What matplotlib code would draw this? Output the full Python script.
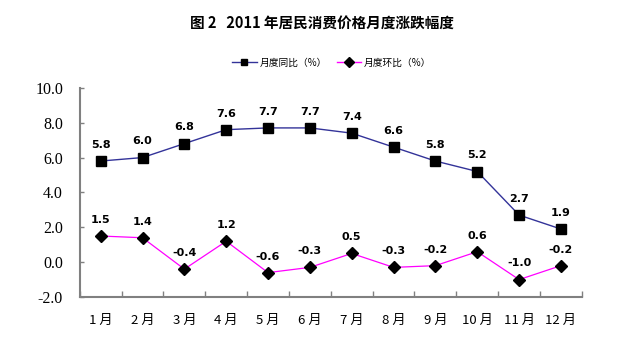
import numpy as np
import matplotlib
matplotlib.use("Agg")
import matplotlib.pyplot as plt
from matplotlib.lines import Line2D

plt.rcParams['font.family'] = ['Noto Sans CJK SC', 'DejaVu Sans']

months = ["1 月", "2 月", "3 月", "4 月", "5 月", "6 月", "7 月", "8 月", "9 月", "10 月", "11 月", "12 月"]
yoy = [5.8, 6.0, 6.8, 7.6, 7.7, 7.7, 7.4, 6.6, 5.8, 5.2, 2.7, 1.9]
mom = [1.5, 1.4, -0.4, 1.2, -0.6, -0.3, 0.5, -0.3, -0.2, 0.6, -1.0, -0.2]
yticks = [-2.0, 0.0, 2.0, 4.0, 6.0, 8.0, 10.0]

fig = plt.figure(figsize=(6.38, 3.57), dpi=100)
ax = fig.add_axes([0.125, 0.168, 0.787, 0.586])

x = np.arange(len(months))
ax.plot(x, yoy, color="#333399", lw=1, marker="s", ms=6.5,
        mfc="black", mec="black")
ax.plot(x, mom, color="#FF00FF", lw=0.9, marker="D", ms=6.5,
        mfc="black", mec="black")

for i in range(len(x)):
    ax.annotate("%.1f" % yoy[i], (x[i], yoy[i]), xytext=(0, 8),
                textcoords="offset points", ha="center", va="bottom",
                fontsize=8, fontweight="bold", family="DejaVu Sans")
    ax.annotate("%.1f" % mom[i], (x[i], mom[i]), xytext=(0, 8),
                textcoords="offset points", ha="center", va="bottom",
                fontsize=8, fontweight="bold", family="DejaVu Sans")

ax.set_xlim(-0.5, len(months) - 0.5)
ax.set_ylim(-2, 10)
ax.set_yticks(yticks)
ax.set_yticklabels(["%.1f" % v for v in yticks], family="Liberation Serif", fontsize=11.5)
ax.set_xticks(x)
ax.set_xticklabels(months, fontsize=9.5)
ax.set_xticks(np.arange(-0.5, len(months)), minor=True)
ax.tick_params(axis="x", which="major", length=0, pad=12)
ax.tick_params(axis="x", which="minor", direction="in", length=4, color="#808080", width=1)
ax.tick_params(axis="y", direction="in", length=3, color="#808080", width=1, pad=12)

for s in ["top", "right"]:
    ax.spines[s].set_visible(False)
for s in ["left", "bottom"]:
    ax.spines[s].set_color("#808080")
    ax.spines[s].set_linewidth(1.5)

fig.text(0.505, 0.935, "图 2   2011 年居民消费价格月度涨跌幅度", ha="center", va="center",
         fontsize=10.5, fontweight="bold")

handles = [
    Line2D([], [], color="#333399", lw=1, marker="s", ms=5, mfc="black", mec="black"),
    Line2D([], [], color="#FF00FF", lw=1, marker="D", ms=5, mfc="black", mec="black"),
]
fig.legend(handles, ["月度同比（%）", "月度环比（%）"], loc="center",
           bbox_to_anchor=(0.52, 0.825), ncol=2, frameon=False, fontsize=7,
           handlelength=2.5, columnspacing=1.0, handletextpad=0.3)

fig.savefig("out.png", dpi=100)
